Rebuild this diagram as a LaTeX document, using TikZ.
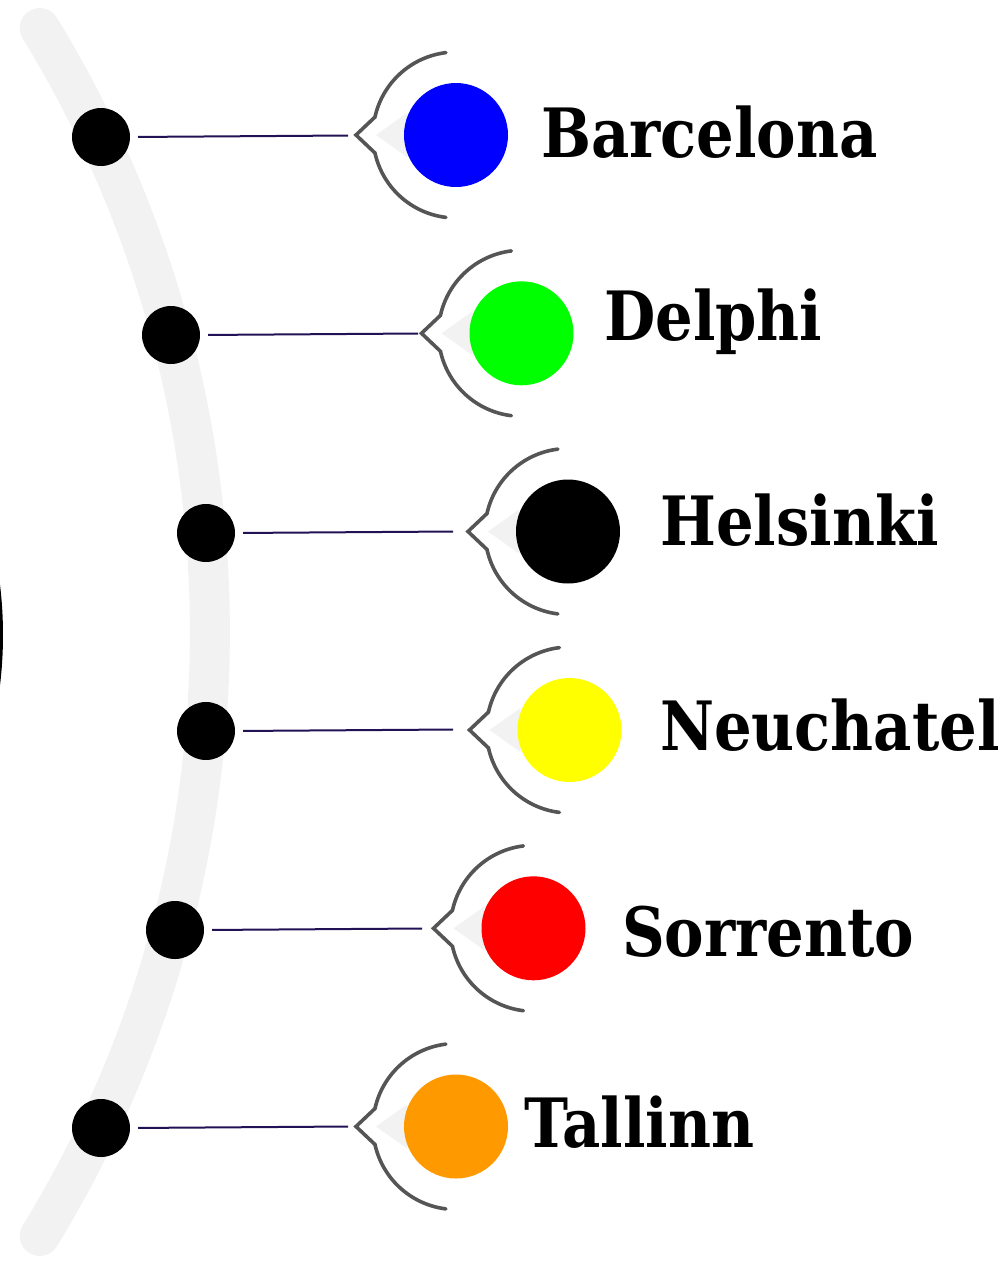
\documentclass[tikz,border=0pt]{standalone}
\usepackage{graphicx}
\usepackage{fontspec}
\newfontfamily\labelfont{DejaVu Serif}
\usetikzlibrary{calc}
\definecolor{trackgray}{HTML}{F2F2F2}
\definecolor{bracketgray}{HTML}{555555}
\definecolor{linkcol}{RGB}{34,17,85}
\definecolor{cblue}{HTML}{0000FF}
\definecolor{cgreen}{HTML}{00FF00}
\definecolor{cyellow}{HTML}{FFFF00}
\definecolor{cred}{HTML}{FF0000}
\definecolor{corange}{HTML}{FF9900}
\tikzset{
  dotstyle/.style={circle, fill=black, minimum size=58pt, inner sep=0pt},
  ballstyle/.style={circle, minimum size=104pt, inner sep=0pt},
  bracketstyle/.style={draw=bracketgray, line width=3.6pt, line cap=round, line join=miter},
  linkstyle/.style={draw=linkcol, line width=2pt},
  labelstyle/.style={inner sep=0pt, anchor=base west, font=\labelfont\bfseries\fontsize{68}{80}\selectfont}
}
\newcommand\cityitem[9]{%
  \node[dotstyle] (d#1) at (#2,#3) {};
  \coordinate (k#1) at (#4,#5);
  \coordinate (e#1) at ($(d#1.east)+(218,-1.5)$);
  \draw[linkstyle, shorten <=8pt] (d#1.east) -- (e#1);
  \fill[trackgray] ($(k#1)+(-80,0)$) -- ($(k#1)+(-49,-22)$) -- ($(k#1)+(-49,22)$) -- cycle;
  \draw[bracketstyle] ($(k#1)+(263:83)$) arc[start angle=263, end angle=192.5, radius=83]
     -- ($(k#1)+(-100,0)$) -- ($(k#1)+(167.5:83)$) arc[start angle=167.5, end angle=97, radius=83];
  \node[ballstyle, fill=#6] (c#1) at (k#1) {};
  \node[labelstyle] (t#1) at (#8,#9) {\scalebox{0.87}[1]{#7}};
}
\begin{document}
\begin{tikzpicture}[x=1pt,y=-1pt]
\useasboundingbox (0,0) rectangle (1006,1262);
\clip (0,0) rectangle (1006,1262);
\fill[black] (-415,635) circle[radius=418];
\draw[line width=40pt, trackgray, line cap=round] (-947,632) ++(-31.47:1157) arc[start angle=-31.47, end angle=31.47, radius=1157];
\cityitem{1}{101}{137}{456}{135}{cblue}{Barcelona}{541}{157}
\cityitem{2}{171}{335}{521.5}{333.3}{cgreen}{Delphi}{604}{340}
\cityitem{3}{206}{533}{568}{531.5}{black}{Helsinki}{660}{545}
\cityitem{4}{206}{731}{569.5}{730}{cyellow}{Neuchatel}{660}{750}
\cityitem{5}{175}{930}{533.5}{928.3}{cred}{Sorrento}{622}{956}
\cityitem{6}{101}{1128}{456}{1126.5}{corange}{Tallinn}{524}{1147}
\end{tikzpicture}
\end{document}
